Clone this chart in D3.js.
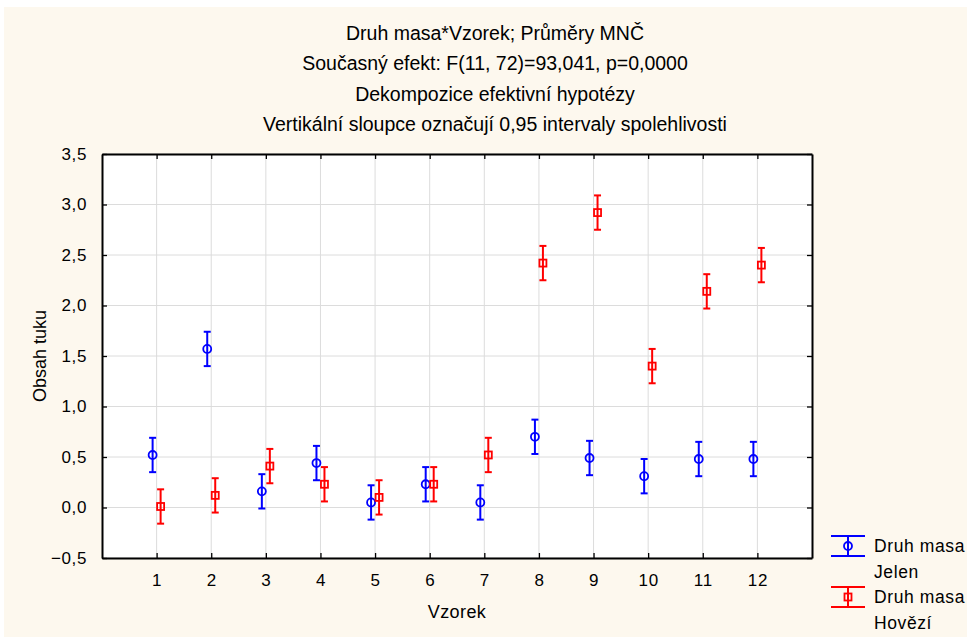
<!DOCTYPE html>
<html>
<head>
    <meta charset="utf-8">
    <title>Druh masa*Vzorek</title>
    <script src="https://d3js.org/d3.v7.min.js"></script>
    <style>
        body { margin: 0; background: #fff; }
        text { font-family: Arial, 'Liberation Sans', sans-serif; fill: #000; }
    </style>
</head>
<body>
<div id="chart"></div>
<script>
    // data
    const samples = ['1', '2', '3', '4', '5', '6', '7', '8', '9', '10', '11', '12'];
    const jelenMean = [0.52, 1.57, 0.16, 0.44, 0.05, 0.23, 0.05, 0.70, 0.49, 0.31, 0.48, 0.48];
    const jelenCI = [0.17, 0.17, 0.17, 0.17, 0.17, 0.17, 0.17, 0.17, 0.17, 0.17, 0.17, 0.17];
    const hoveziMean = [0.01, 0.12, 0.41, 0.23, 0.10, 0.23, 0.52, 2.42, 2.92, 1.40, 2.14, 2.40];
    const hoveziCI = [0.17, 0.17, 0.17, 0.17, 0.17, 0.17, 0.17, 0.17, 0.17, 0.17, 0.17, 0.17];
    const yTicks = [-0.5, 0, 0.5, 1, 1.5, 2, 2.5, 3, 3.5];
    const titleLines = [
        'Druh masa*Vzorek; Průměry MNČ',
        'Současný efekt: F(11, 72)=93,041, p=0,0000',
        'Dekompozice efektivní hypotézy',
        'Vertikální sloupce označují 0,95 intervaly spolehlivosti'
    ];

    const width = 967, height = 637;
    const plot = { left: 102, right: 812, top: 154, bottom: 558 };

    const svg = d3.select('#chart').append('svg')
        .attr('width', width)
        .attr('height', height);

    // cream page background
    svg.append('rect')
        .attr('x', 4).attr('y', 7)
        .attr('width', width - 4).attr('height', height - 7)
        .attr('fill', '#fdf8ee');

    const x = d3.scaleLinear().domain([0, samples.length + 1]).range([plot.left, plot.right]);
    const y = d3.scaleLinear().domain([-0.5, 3.5]).range([plot.bottom, plot.top]);
    const fmt = d => d3.format('.1f')(d).replace('.', ',');

    svg.append('rect')
        .attr('x', plot.left).attr('y', plot.top)
        .attr('width', plot.right - plot.left).attr('height', plot.bottom - plot.top)
        .attr('fill', '#fff');

    // grid
    const grid = svg.append('g').attr('stroke', '#dcdcdc').attr('stroke-width', 1);
    yTicks.forEach(t => {
        grid.append('line')
            .attr('x1', plot.left).attr('x2', plot.right)
            .attr('y1', y(t)).attr('y2', y(t));
    });
    samples.forEach((s, i) => {
        grid.append('line')
            .attr('x1', x(i + 1)).attr('x2', x(i + 1))
            .attr('y1', plot.top).attr('y2', plot.bottom);
    });

    // axes, ticks pointing inward
    const tickIn = 5;
    const xAxisB = d3.axisBottom(x).tickValues(d3.range(1, samples.length + 1))
        .tickFormat(d => samples[d - 1]).tickSizeInner(-tickIn).tickSizeOuter(0).tickPadding(16);
    const xAxisT = d3.axisTop(x).tickValues(d3.range(1, samples.length + 1))
        .tickFormat('').tickSizeInner(-tickIn).tickSizeOuter(0);
    const yAxisL = d3.axisLeft(y).tickValues(yTicks).tickFormat(fmt)
        .tickSizeInner(-tickIn).tickSizeOuter(0).tickPadding(15);
    const yAxisR = d3.axisRight(y).tickValues(yTicks).tickFormat('')
        .tickSizeInner(-tickIn).tickSizeOuter(0);

    const axes = [
        svg.append('g').attr('transform', `translate(0,${plot.bottom})`).call(xAxisB),
        svg.append('g').attr('transform', `translate(0,${plot.top})`).call(xAxisT),
        svg.append('g').attr('transform', `translate(${plot.left},0)`).call(yAxisL),
        svg.append('g').attr('transform', `translate(${plot.right},0)`).call(yAxisR)
    ];
    axes.forEach(g => {
        g.select('.domain').attr('stroke', '#000').attr('stroke-width', 2);
        g.selectAll('.tick line').attr('stroke', '#000').attr('stroke-width', 1.3);
        g.selectAll('.tick text').style('font-size', '17px').style('letter-spacing', '0.6px')
            .attr('fill', '#000')
            .style('font-family', 'Arial, "Liberation Sans", sans-serif');
    });

    // titles
    svg.selectAll('.title').data(titleLines).enter().append('text')
        .attr('class', 'title')
        .attr('x', 495)
        .attr('y', (d, i) => 40 + i * 30.3)
        .attr('text-anchor', 'middle')
        .style('font-size', '19.5px')
        .text(d => d);

    svg.append('text')
        .attr('x', (plot.left + plot.right) / 2)
        .attr('y', 618)
        .attr('text-anchor', 'middle')
        .style('font-size', '18px')
        .style('letter-spacing', '0.4px')
        .text('Vzorek');

    svg.append('text')
        .attr('transform', `translate(46,${(plot.top + plot.bottom) / 2}) rotate(-90)`)
        .attr('text-anchor', 'middle')
        .style('font-size', '18px')
        .text('Obsah tuku');

    // series
    const series = [
        { name: 'Jelen', mean: jelenMean, ci: jelenCI, color: '#0000ff', shape: 'circle', dx: -4 },
        { name: 'Hovězí', mean: hoveziMean, ci: hoveziCI, color: '#ff0000', shape: 'square', dx: 4 }
    ];

    function drawMarker(g, shape, cx, cy, color) {
        if (shape === 'circle') {
            g.append('circle').attr('cx', cx).attr('cy', cy).attr('r', 4)
                .attr('fill', 'none').attr('stroke', color).attr('stroke-width', 1.8);
        } else {
            g.append('rect').attr('x', cx - 3.5).attr('y', cy - 3.5)
                .attr('width', 7).attr('height', 7)
                .attr('fill', 'none').attr('stroke', color).attr('stroke-width', 1.8);
        }
    }

    series.forEach(s => {
        const g = svg.append('g');
        s.mean.forEach((m, i) => {
            const cx = x(i + 1) + s.dx;
            const lo = y(m - s.ci[i]), hi = y(m + s.ci[i]);
            g.append('line').attr('x1', cx).attr('x2', cx).attr('y1', lo).attr('y2', hi)
                .attr('stroke', s.color).attr('stroke-width', 2);
            [lo, hi].forEach(yy => {
                g.append('line').attr('x1', cx - 3.5).attr('x2', cx + 3.5).attr('y1', yy).attr('y2', yy)
                    .attr('stroke', s.color).attr('stroke-width', 2);
            });
            drawMarker(g, s.shape, cx, y(m), s.color);
        });
    });

    // legend
    series.forEach((s, i) => {
        const top = 536 + i * 51;
        const g = svg.append('g');
        [top, top + 20].forEach(yy => {
            g.append('line').attr('x1', 831).attr('x2', 865).attr('y1', yy).attr('y2', yy)
                .attr('stroke', s.color).attr('stroke-width', 2);
        });
        g.append('line').attr('x1', 848).attr('x2', 848).attr('y1', top).attr('y2', top + 20)
            .attr('stroke', s.color).attr('stroke-width', 2);
        drawMarker(g, s.shape, 848, top + 10, s.color);
        g.append('text').attr('x', 874).attr('y', top + 16)
            .style('font-size', '17.5px').style('letter-spacing', '0.6px').text('Druh masa');
        g.append('text').attr('x', 874).attr('y', top + 42)
            .style('font-size', '17.5px').style('letter-spacing', '0.6px').text(s.name);
    });
</script>
</body>
</html>
